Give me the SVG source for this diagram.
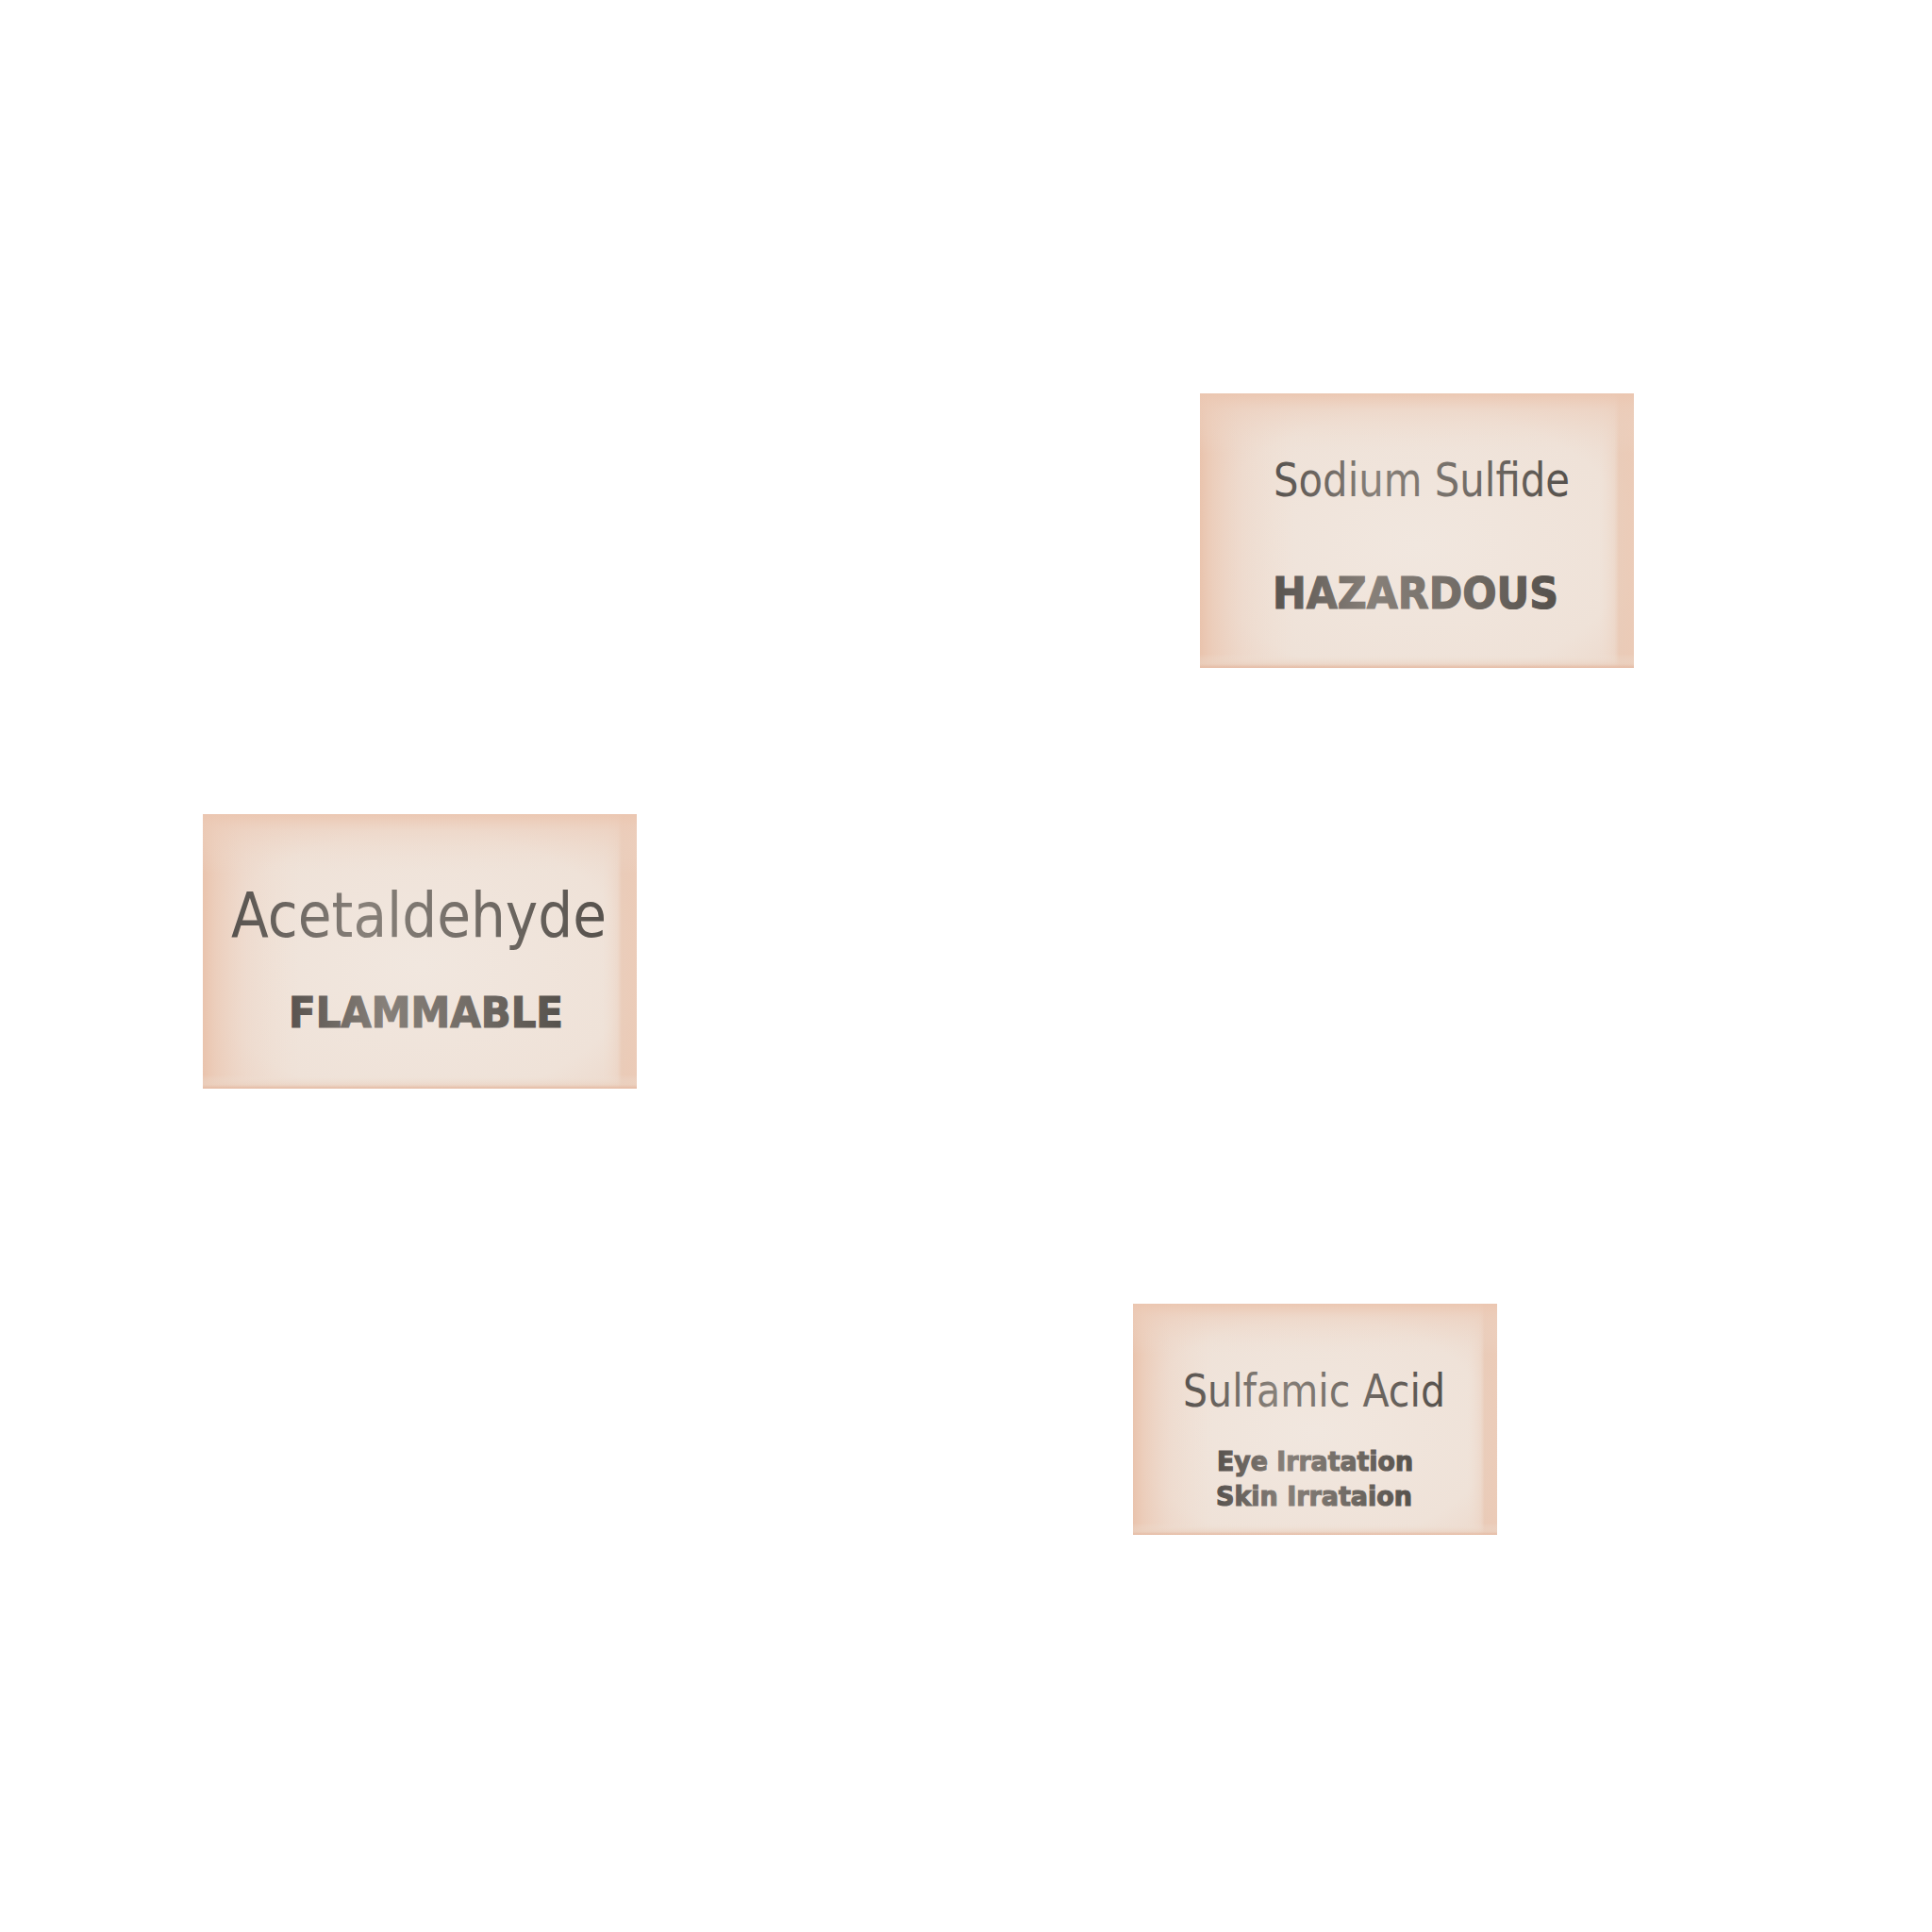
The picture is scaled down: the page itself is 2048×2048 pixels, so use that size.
<svg xmlns="http://www.w3.org/2000/svg" width="2048" height="2048" viewBox="0 0 2048 2048">
<defs>
<radialGradient id="paper" cx="0.5" cy="0.55" r="0.7">
<stop offset="0" stop-color="#f1e7df"/>
<stop offset="0.7" stop-color="#efe2d8"/>
<stop offset="1" stop-color="#ecd6c8"/>
</radialGradient>
<linearGradient id="leftEdge" x1="0" y1="0" x2="1" y2="0">
<stop offset="0" stop-color="#e9c2ab" stop-opacity="0.95"/>
<stop offset="0.03" stop-color="#ebc8b3" stop-opacity="0.75"/>
<stop offset="0.1" stop-color="#edd2c2" stop-opacity="0.45"/>
<stop offset="0.22" stop-color="#efdacb" stop-opacity="0"/>
<stop offset="0.92" stop-color="#efdacb" stop-opacity="0"/>
<stop offset="0.955" stop-color="#ecd1c0" stop-opacity="0.5"/>
<stop offset="0.965" stop-color="#e8c4ae" stop-opacity="0.7"/>
<stop offset="1" stop-color="#ebc8b3" stop-opacity="0.85"/>
</linearGradient>
<linearGradient id="topEdge" x1="0" y1="0" x2="0" y2="1">
<stop offset="0" stop-color="#ebc6b0" stop-opacity="0.95"/>
<stop offset="0.06" stop-color="#edcfbd" stop-opacity="0.5"/>
<stop offset="0.22" stop-color="#efdfd3" stop-opacity="0"/>
<stop offset="0.95" stop-color="#efe4da" stop-opacity="0"/>
<stop offset="0.985" stop-color="#ebd2c1" stop-opacity="0.6"/>
<stop offset="1" stop-color="#e4b79f" stop-opacity="1"/>
</linearGradient>
<linearGradient id="ink" x1="0" y1="0" x2="1" y2="0">
<stop offset="0" stop-color="#58534f"/>
<stop offset="0.35" stop-color="#878079"/>
<stop offset="0.65" stop-color="#736d67"/>
<stop offset="1" stop-color="#56514c"/>
</linearGradient>
</defs>
<style>
.card{fill:url(#paper)}
.edgeH{fill:url(#leftEdge)}
.edgeV{fill:url(#topEdge)}
.title{font-family:"DejaVu Sans","Liberation Sans",sans-serif;font-weight:normal;fill:url(#ink)}
.tag{font-family:"DejaVu Sans","Liberation Sans",sans-serif;font-weight:bold;fill:url(#ink);stroke:url(#ink);stroke-width:1.2}
</style>
<rect width="2048" height="2048" fill="#ffffff"/>
<g id="node-sodium-sulfide">
<rect class="card" x="1272" y="417" width="460" height="291"/>
<rect class="edgeH" x="1272" y="417" width="460" height="291"/>
<rect class="edgeV" x="1272" y="417" width="460" height="291"/>
<text class="title" x="1350" y="526" font-size="50" textLength="314" lengthAdjust="spacingAndGlyphs">Sodium Sulfide</text>
<text class="tag" x="1349" y="645" font-size="47" textLength="303" lengthAdjust="spacingAndGlyphs">HAZARDOUS</text>
</g>
<g id="node-acetaldehyde">
<rect class="card" x="215" y="863" width="460" height="291"/>
<rect class="edgeH" x="215" y="863" width="460" height="291"/>
<rect class="edgeV" x="215" y="863" width="460" height="291"/>
<text class="title" x="245" y="993" font-size="66" textLength="398" lengthAdjust="spacingAndGlyphs">Acetaldehyde</text>
<text class="tag" x="306" y="1089" font-size="45" textLength="291" lengthAdjust="spacingAndGlyphs">FLAMMABLE</text>
</g>
<g id="node-sulfamic-acid">
<rect class="card" x="1201" y="1382" width="386" height="245"/>
<rect class="edgeH" x="1201" y="1382" width="386" height="245"/>
<rect class="edgeV" x="1201" y="1382" width="386" height="245"/>
<text class="title" x="1254" y="1491" font-size="48" textLength="278" lengthAdjust="spacingAndGlyphs">Sulfamic Acid</text>
<text class="tag" x="1290" y="1559" font-size="28" textLength="208" lengthAdjust="spacingAndGlyphs">Eye Irratation</text>
<text class="tag" x="1289" y="1596" font-size="28" textLength="208" lengthAdjust="spacingAndGlyphs">Skin Irrataion</text>
</g>
<g id="connectors"/>
</svg>
